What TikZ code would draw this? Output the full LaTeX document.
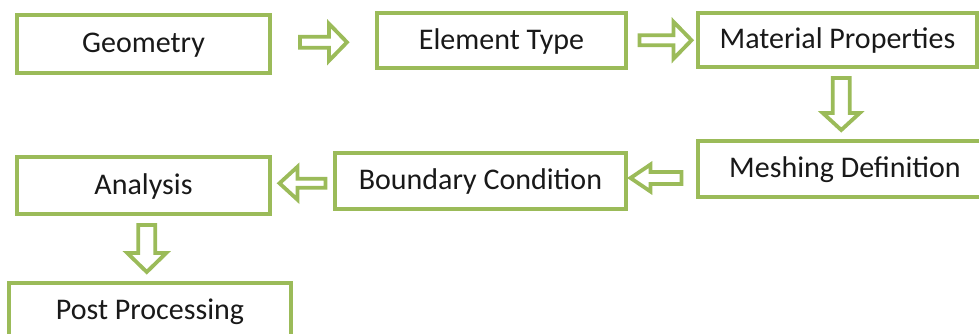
\documentclass[tikz,border=0pt]{standalone}
\usepackage{fontspec}
\setmainfont{Carlito}
\usetikzlibrary{calc}
\definecolor{boxgreen}{HTML}{9BBB59}
\tikzset{
  stepbox/.style={draw=boxgreen, line width=3.5pt, fill=white, inner sep=0pt,
    text height=22pt, text depth=5pt, text=black!90,
    font=\fontsize{30}{36}\selectfont},
  %% block arrow: length / head length / head width / shaft width
  pics/blockarrow/.style args={#1/#2/#3/#4}{code={
    \draw[draw=boxgreen, line width=3.8pt, fill=white]
      (-#1/2,-#4/2) -- (#1/2-#2,-#4/2) -- (#1/2-#2,-#3/2) -- (#1/2,0)
      -- (#1/2-#2,#3/2) -- (#1/2-#2,#4/2) -- (-#1/2,#4/2) -- cycle;
  }}
}
\begin{document}
\begin{tikzpicture}[x=1pt,y=-1pt]
        \useasboundingbox (0,0) rectangle (979,333);
        \clip (0,0) rectangle (979,333);
        %% first row
        \node[stepbox, minimum width=253, minimum height=58] (geo) at (143.5,44) {Geometry};
        \node[stepbox, minimum width=249, minimum height=55] (elem) at (501.5,40.5) {Element Type};
        \node[stepbox, minimum width=279, minimum height=54] (mat) at (837.5,40) {Material Properties};
        %% second row
        \node[stepbox, minimum width=294, minimum height=56] (mesh) at (845,169) {Meshing Definition};
        \node[stepbox, minimum width=291, minimum height=56] (bound) at (480.5,181) {Boundary Condition};
        \node[stepbox, minimum width=253, minimum height=57] (ana) at (143.5,185.5) {Analysis};
        %% last
        \node[stepbox, minimum width=282, minimum height=56] (post) at (150,311) {Post Processing};
        %% arrows
        \pic at ($(geo.east)!0.5!(elem.west)$) {blockarrow=47/18/37/11};
        \pic[xshift=3.5pt] at ($(elem.east)!0.5!(mat.west)$) {blockarrow=52/18/37/10};
        \pic[rotate=-90] at ($(mat.south)!0.5!(mesh.north)$) {blockarrow=52/17/37/17};
        \pic[rotate=180, xshift=6pt, yshift=3pt] at ($(mesh.west)!0.5!(bound.east)$) {blockarrow=51/20/27/12};
        \pic[rotate=180] at ($(bound.west)!0.5!(ana.east)$) {blockarrow=46/18/33/9};
        \pic[rotate=-90] at ($(ana.south)!0.5!(post.north)$) {blockarrow=47/19/39/17};
    \end{tikzpicture}
\end{document}
